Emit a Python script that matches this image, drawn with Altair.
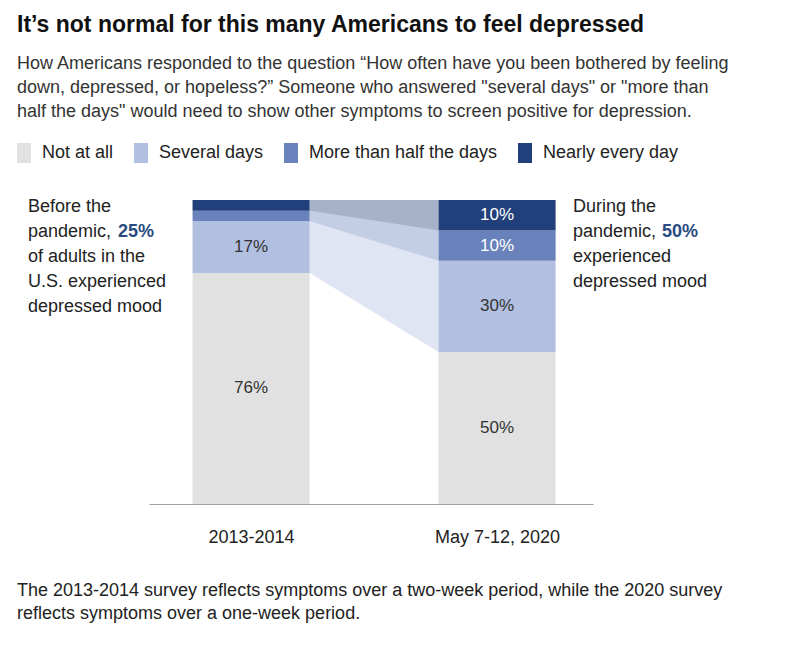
import altair as alt
import pandas as pd

# ---------------- data ----------------
periods = ["2013-2014", "May 7-12, 2020"]
responses = ["Not at all", "Several days", "More than half the days", "Nearly every day"]
share_2013 = [76, 17, 3.5, 3.5]
share_2020 = [50, 30, 10, 10]
labels_2013 = ["76%", "17%", "", ""]
labels_2020 = ["50%", "30%", "10%", "10%"]
colors = ["#e1e1e1", "#b1bfe0", "#6a82bb", "#213f7a"]

title_text = "It’s not normal for this many Americans to feel depressed"
subtitle_lines = [
    "How Americans responded to the question “How often have you been bothered by feeling",
    "down, depressed, or hopeless?” Someone who answered \"several days\" or \"more than",
    "half the days\" would need to show other symptoms to screen positive for depression.",
]
note_left = ["Before the", "pandemic,", "of adults in the", "U.S. experienced", "depressed mood"]
note_left_bold = "25%"
note_right = ["During the", "pandemic,", "experienced", "depressed mood"]
note_right_bold = "50%"
footer_lines = [
    "The 2013-2014 survey reflects symptoms over a two-week period, while the 2020 survey",
    "reflects symptoms over a one-week period.",
]

# ---------------- tables ----------------
HALF = 0.238  # half bar width in x-scale units
rows = []
for i, (p, shares, labs) in enumerate(zip(periods, [share_2013, share_2020], [labels_2013, labels_2020])):
    base = 0.0
    for r, s, lab in zip(responses, shares, labs):
        rows.append(dict(period=p, idx=i, response=r, y0=base, y1=base + s,
                         ymid=base + s / 2, label=lab))
        base += s
bars = pd.DataFrame(rows)
bars["x0"] = bars["idx"] - HALF
bars["x1"] = bars["idx"] + HALF

band_rows = []
for r in responses[1:]:
    a = bars[(bars.idx == 0) & (bars.response == r)].iloc[0]
    b = bars[(bars.idx == 1) & (bars.response == r)].iloc[0]
    band_rows.append(dict(response=r, x=a.idx + HALF, y0=a.y0, y1=a.y1))
    band_rows.append(dict(response=r, x=b.idx - HALF, y0=b.y0, y1=b.y1))
bands = pd.DataFrame(band_rows)

FONT = "Liberation Sans"
xscale = alt.Scale(domain=[-0.415, 1.39], nice=False, zero=False)
yscale = alt.Scale(domain=[0, 100], nice=False)
cscale = alt.Scale(domain=responses, range=colors)

label_expr = "[" + ",".join("'" + p + "'" for p in periods) + "][datum.value]"
xaxis = alt.Axis(values=[0, 1], labelExpr=label_expr, title=None, ticks=False,
                 tickSize=0, grid=False, domainColor="#a0a0a0", domainWidth=1,
                 labelFontSize=18, labelFont=FONT, labelColor="#222",
                 labelPadding=24, labelBaseline="top")
legend = alt.Legend(orient="none", legendX=-135, legendY=-57,
                    direction="horizontal", title=None,
                    symbolType="M-0.7,-1H0.7V1H-0.7Z", symbolSize=400,
                    symbolStrokeWidth=0, symbolOpacity=1,
                    labelFontSize=18, labelFont=FONT, labelColor="#222",
                    labelLimit=400, labelOffset=8, columnPadding=17, padding=0)

band_layer = alt.Chart(bands).mark_area(opacity=0.4).encode(
    x=alt.X("x:Q", scale=xscale, axis=xaxis),
    y=alt.Y("y0:Q", scale=yscale, axis=None),
    y2="y1:Q",
    color=alt.Color("response:N", scale=cscale, legend=legend),
    detail="response:N",
)

bar_layer = alt.Chart(bars).mark_rect().encode(
    x=alt.X("x0:Q", scale=xscale, axis=xaxis),
    x2="x1:Q",
    y=alt.Y("y0:Q", scale=yscale, axis=None),
    y2="y1:Q",
    color=alt.Color("response:N", scale=cscale, legend=legend),
)

value_layer = alt.Chart(bars).transform_filter("datum.label != ''").mark_text(
    fontSize=17, font=FONT, baseline="middle", align="center"
).encode(
    x=alt.X("idx:Q", scale=xscale, axis=xaxis),
    y=alt.Y("ymid:Q", scale=yscale, axis=None),
    text="label:N",
    color=alt.condition(alt.FieldOneOfPredicate(field="response", oneOf=responses[2:]),
                        alt.value("white"), alt.value("#333")),
)

one = alt.Data(values=[{}])

def note(lines, x, y, bold=False, color="#222", line_height=25):
    return alt.Chart(one).mark_text(
        align="left", baseline="middle", fontSize=18, font=FONT,
        fontWeight="bold" if bold else "normal", lineHeight=line_height,
    ).encode(x=alt.value(x), y=alt.value(y), text=alt.value(lines), color=alt.value(color))

left_note = note(note_left, -121, 7)
left_bold = note(note_left_bold, -31, 32, bold=True, color="#2a4a82")
right_note = note(note_right, 424, 7)
right_bold = note(note_right_bold, 513, 32, bold=True, color="#2a4a82")
footer = note(footer_lines, -132, 391, line_height=23)

chart = alt.layer(
    band_layer, bar_layer, value_layer, left_note, left_bold, right_note, right_bold, footer
).properties(
    width=444, height=304,
    autosize=alt.AutoSizeParams(type="none"),
    padding={"left": 141, "top": 192, "right": 186, "bottom": 138},
    title=alt.TitleParams(
        text=title_text, subtitle=subtitle_lines, anchor="start", frame="group",
        dx=-132, offset=22, font=FONT, fontSize=23, fontWeight="bold", color="#111",
        subtitleFont=FONT, subtitleFontSize=18, subtitleColor="#333",
        subtitleLineHeight=24, subtitlePadding=18,
    ),
).configure(font=FONT, background="white").configure_view(stroke=None)

chart.save("out.html", embed_options={"renderer": "svg", "actions": False})
